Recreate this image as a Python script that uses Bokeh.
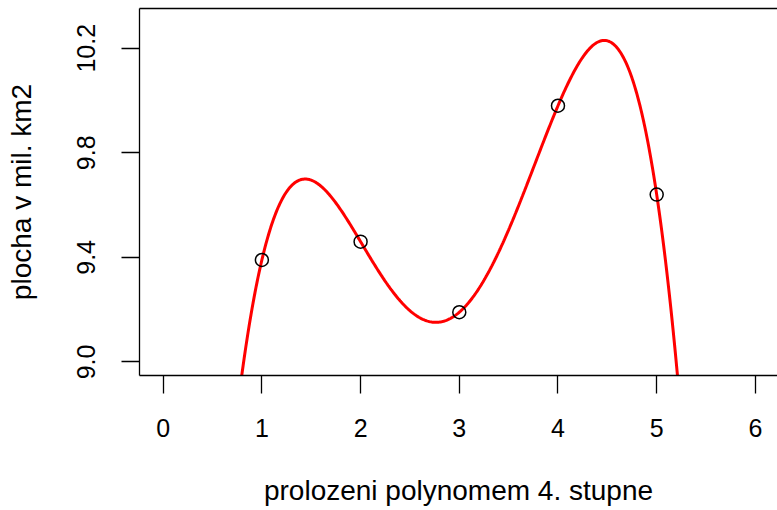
import numpy as np
from bokeh.plotting import figure
from bokeh.models import LinearAxis, FixedTicker, Range1d
from bokeh.embed import file_html
from bokeh.resources import INLINE

# data
years = [1, 2, 3, 4, 5]
area = [9.39, 9.46, 9.19, 9.98, 9.64]
x_ticks = [0, 1, 2, 3, 4, 5, 6]
y_ticks = [9.0, 9.4, 9.8, 10.2]
y_tick_labels = ["9.0", "9.4", "9.8", "10.2"]
x_title = "prolozeni polynomem 4. stupne"
y_title = "plocha v mil. km2"

# 4th degree polynomial fit through the points
coef = np.polyfit(years, area, 4)
xs = np.linspace(0, 6, 601)
ys = np.polyval(coef, xs)

FONT = "Liberation Sans"

p = figure(width=777, height=510, output_backend="svg", toolbar_location=None,
           x_range=Range1d(-0.24, 6.224), y_range=Range1d(8.948, 10.352),
           x_axis_location=None, y_axis_location=None,
           min_border_left=139, min_border_right=0, min_border_top=8,
           min_border_bottom=135)
p.outline_line_color = None
p.grid.visible = False
p.background_fill_color = "white"
p.border_fill_color = "white"

def style(ax, ticks):
    ax.ticker = FixedTicker(ticks=ticks)
    ax.axis_line_color = "black"
    ax.axis_line_width = 1.3
    ax.major_tick_line_color = "black"
    ax.major_tick_line_width = 1.3
    ax.major_tick_in = 0
    ax.major_tick_out = 18
    ax.minor_tick_line_color = None
    ax.minor_tick_out = 0
    ax.minor_tick_in = 0
    ax.major_label_text_font = FONT
    ax.major_label_text_font_size = "25px"
    ax.major_label_text_color = "black"
    ax.axis_label_text_font = FONT
    ax.axis_label_text_font_size = "28px"
    ax.axis_label_text_font_style = "normal"
    ax.axis_label_text_color = "black"

xa = LinearAxis(axis_label=x_title)
style(xa, x_ticks)
xa.major_label_standoff = 25
xa.axis_label_standoff = 35
p.add_layout(xa, "below")

ya = LinearAxis(axis_label=y_title)
style(ya, y_ticks)
ya.major_label_overrides = {t: s for t, s in zip(y_ticks, y_tick_labels)}
ya.major_label_orientation = "vertical"
ya.major_label_standoff = 26
ya.axis_label_standoff = 38
p.add_layout(ya, "left")

top = LinearAxis(ticker=FixedTicker(ticks=[]))
top.axis_line_color = "black"
top.axis_line_width = 1.3
top.major_tick_out = 0
top.major_tick_in = 0
top.minor_tick_out = 0
top.minor_tick_in = 0
top.major_label_text_font_size = "0px"
p.add_layout(top, "above")

p.line(xs, ys, line_color="#FF0000", line_width=3)
p.scatter(years, area, marker="circle", size=13, fill_color=None,
          line_color="black", line_width=1.5)

open("out.html", "w").write(file_html(p, INLINE))
